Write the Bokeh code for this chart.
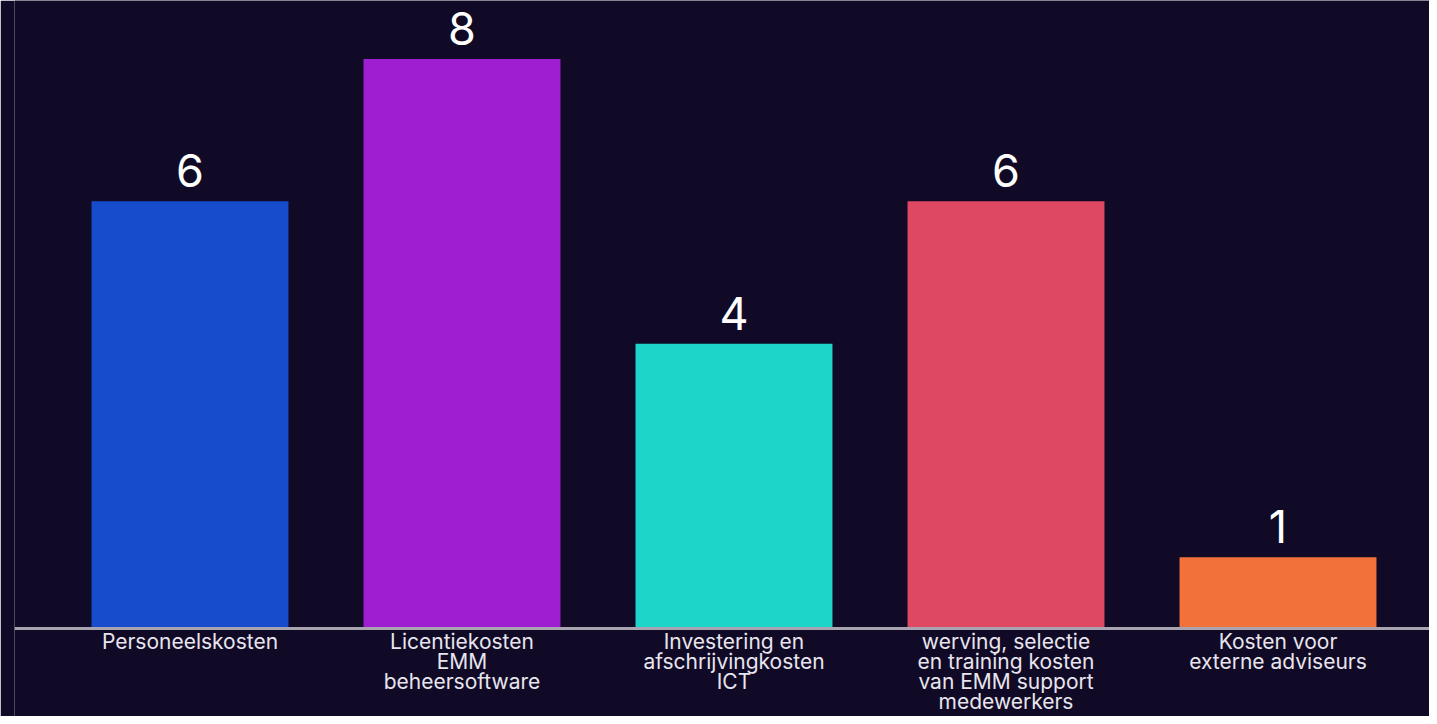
from bokeh.plotting import figure
from bokeh.models import ColumnDataSource, Span
from bokeh.core.properties import value
from bokeh.embed import file_html
from bokeh.resources import INLINE

categories = [
    "Personeelskosten",
    "Licentiekosten\nEMM\nbeheersoftware",
    "Investering en\nafschrijvingkosten\nICT",
    "werving, selectie\nen training kosten\nvan EMM support\nmedewerkers",
    "Kosten voor\nexterne adviseurs",
]
values = [6, 8, 4, 6, 1]
colors = ["#174dcc", "#9e1fcf", "#1dd5c9", "#de4863", "#f2703a"]

BG = "#110a26"
FONT = "Inter"

xs = list(range(len(values)))
src = ColumnDataSource(dict(x=xs, top=values, color=colors,
                            label=[str(v) for v in values], cat=categories,
                            zero=[0] * len(values)))

p = figure(width=1429, height=716, output_backend="svg", toolbar_location=None,
           x_range=(-0.6452, 4.557), y_range=(-1.236, 8.82),
           min_border_left=14, min_border_right=0, min_border_top=0, min_border_bottom=0)
p.background_fill_color = BG
p.border_fill_color = BG
p.outline_line_color = None
p.grid.visible = False
p.axis.visible = False

p.vbar(x="x", top="top", bottom=0, width=0.724, color="color", line_color=None, source=src)
p.text(x="x", y="top", text="label", source=src, y_offset=-14,
       text_align="center", text_baseline="bottom", text_color="#ffffff",
       text_font=value(FONT), text_font_size="45px")

# category labels under the baseline
p.text(x="x", y="zero", text="cat", source=src, y_offset=1,
       text_align="center", text_baseline="top", text_color="#e8e5ee",
       text_font=value(FONT), text_font_size="21px", text_line_height=0.8)

p.add_layout(Span(location=0, dimension="width", line_color="#a8a4b0", line_width=3))

open("out.html", "w").write(file_html(p, INLINE))
